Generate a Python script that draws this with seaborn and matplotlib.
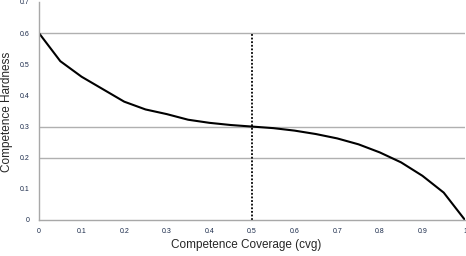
import matplotlib
matplotlib.use("Agg")
import matplotlib.pyplot as plt
import seaborn as sns
import pandas as pd

coverage = [0.0, 0.05, 0.10, 0.15, 0.20, 0.25, 0.30, 0.35, 0.40, 0.45, 0.50,
            0.55, 0.60, 0.65, 0.70, 0.75, 0.80, 0.85, 0.90, 0.95, 1.00]
hardness = [0.60, 0.51, 0.46, 0.42, 0.38, 0.355, 0.34, 0.322, 0.312, 0.305, 0.30,
            0.295, 0.287, 0.276, 0.262, 0.243, 0.217, 0.185, 0.142, 0.088, 0.0]
marker_x = 0.5
marker_top = 0.6
grid_levels = [0.2, 0.3, 0.6]
x_ticks = [0, 0.1, 0.2, 0.3, 0.4, 0.5, 0.6, 0.7, 0.8, 0.9, 1]
x_tick_labels = ["0", "0.1", "0.2", "0.3", "0.4", "0.5", "0.6", "0.7", "0.8", "0.9", "1"]
y_ticks = [0, 0.1, 0.2, 0.3, 0.4, 0.5, 0.6, 0.7]
y_tick_labels = ["0", "0.1", "0.2", "0.3", "0.4", "0.5", "0.6", "0.7"]

sns.set_style("white")
plt.rcParams['font.family'] = ['Liberation Sans', 'DejaVu Sans']

df = pd.DataFrame({"cvg": coverage, "hard": hardness})

fig = plt.figure(figsize=(4.66, 2.56), dpi=100)
ax = fig.add_axes([39/466, 1 - 220/256, 426/466, 218/256])

for g in grid_levels:
    ax.axhline(g, color="#b0b0b0", lw=1.0, zorder=0)

ax.plot([marker_x, marker_x], [0, marker_top], color="black", lw=1.3,
        linestyle=(0, (1, 1)), zorder=1)
sns.lineplot(data=df, x="cvg", y="hard", ax=ax, color="black", lw=1.5, zorder=2)

ax.set_xlim(0, 1)
ax.set_ylim(0, 0.7)
ax.set_xticks(x_ticks)
ax.set_xticklabels(x_tick_labels)
ax.set_yticks(y_ticks)
ax.set_yticklabels(y_tick_labels)
ax.tick_params(axis="x", length=3, width=0.8, color="#a0a0a0", labelsize=5, pad=3, labelcolor="#1a2a4a")
ax.tick_params(axis="y", length=0, labelsize=5, pad=7, labelcolor="#1a2a4a")
for s in ["top", "right"]:
    ax.spines[s].set_visible(False)
for s in ["left", "bottom"]:
    ax.spines[s].set_color("#a8a8a8")
    ax.spines[s].set_linewidth(1.0)

ax.set_xlabel("")
ax.set_ylabel("")
fig.text(246/466, 1 - 245/256, "Competence Coverage (cvg)", fontsize=8.5,
         ha="center", va="center")
fig.text(7/466, 1 - 112/256, "Competence Hardness", fontsize=8.5,
         ha="center", va="center", rotation=90)

fig.savefig("out.png", dpi=100)
